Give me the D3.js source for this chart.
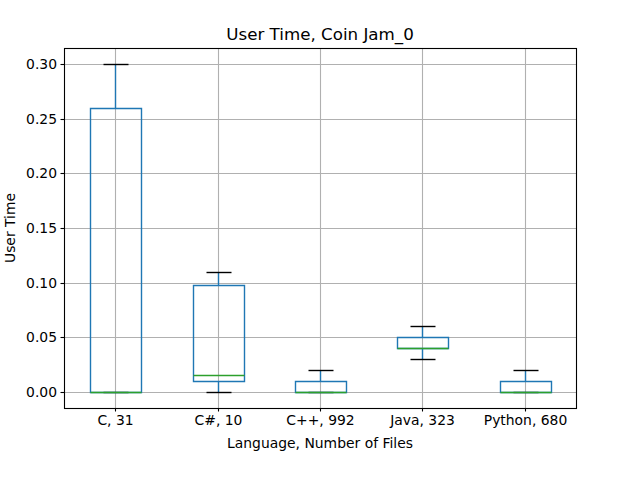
<!DOCTYPE html>
<html><head><meta charset="utf-8">
<script src="https://cdn.jsdelivr.net/npm/d3@7"></script>
<style>body{margin:0;background:#fff}svg{display:block}text{font-family:"DejaVu Sans",sans-serif}</style>
</head><body><svg id="c" width="640" height="480"></svg>
<script>
const categories = ["C, 31", "C#, 10", "C++, 992", "Java, 323", "Python, 680"];
const whiskerLow = [0, 0, 0, 0.03, 0];
const q1 = [0, 0.01, 0, 0.04, 0];
const median = [0, 0.015, 0, 0.04, 0];
const q3 = [0.26, 0.0975, 0.01, 0.05, 0.01];
const whiskerHigh = [0.30, 0.11, 0.02, 0.06, 0.02];
const yTicks = [0, 0.05, 0.10, 0.15, 0.20, 0.25, 0.30];

const svg = d3.select("#c");
const L = 64, R = 576, T = 48, B = 408;
const x = d3.scaleLinear().domain([0.5, categories.length + 0.5]).range([L, R]);
const y = d3.scaleLinear().domain([-0.015, 0.315]).range([B, T]);
const s = v => Math.round(v) + 0.5;   // snap to pixel centre
const pos = i => s(x(i + 1));
const bw = x(1.25) - x(1);   // half box width
const cw = x(1.125) - x(1);  // half cap width
const LW = 1.4;

// grid
const g = svg.append("g");
categories.forEach((c, i) => g.append("line").attr("x1", pos(i)).attr("x2", pos(i)).attr("y1", T).attr("y2", B).attr("stroke", "#b0b0b0").attr("stroke-width", 1.1));
yTicks.forEach(t => g.append("line").attr("x1", L).attr("x2", R).attr("y1", s(y(t))).attr("y2", s(y(t))).attr("stroke", "#b0b0b0").attr("stroke-width", 1.1));

// boxes
categories.forEach((c, i) => {
  const cx = pos(i);
  const b = svg.append("g");
  const yq1 = s(y(q1[i])), yq3 = s(y(q3[i])), ywl = s(y(whiskerLow[i])), ywh = s(y(whiskerHigh[i])), ym = s(y(median[i]));
  const bx0 = s(cx - bw), bx1 = s(cx + bw), cx0 = s(cx - cw), cx1 = s(cx + cw);
  b.append("line").attr("x1", cx).attr("x2", cx).attr("y1", yq3).attr("y2", ywh).attr("stroke", "#1f77b4").attr("stroke-width", LW);
  b.append("line").attr("x1", cx).attr("x2", cx).attr("y1", yq1).attr("y2", ywl).attr("stroke", "#1f77b4").attr("stroke-width", LW);
  b.append("line").attr("x1", cx0).attr("x2", cx1).attr("y1", ywh).attr("y2", ywh).attr("stroke", "#000").attr("stroke-width", LW);
  b.append("line").attr("x1", cx0).attr("x2", cx1).attr("y1", ywl).attr("y2", ywl).attr("stroke", "#000").attr("stroke-width", LW);
  b.append("path").attr("d", `M${bx0},${yq1}H${bx1}V${yq3}H${bx0}Z`).attr("fill", "none").attr("stroke", "#1f77b4").attr("stroke-width", LW);
  b.append("line").attr("x1", bx0).attr("x2", bx1).attr("y1", ym).attr("y2", ym).attr("stroke", "#2ca02c").attr("stroke-width", LW);
});

// axes
const xAxis = d3.axisBottom(x).tickValues(categories.map((c, i) => i + 1)).tickFormat((d) => categories[d - 1]).tickSize(3.5).tickPadding(3.5);
const yAxis = d3.axisLeft(y).tickValues(yTicks).tickFormat(d3.format(".2f")).tickSize(3.5).tickPadding(3.5);
const xa = svg.append("g").attr("transform", `translate(0,${B})`).call(xAxis);
const ya = svg.append("g").attr("transform", `translate(${L},0)`).call(yAxis);
[xa, ya].forEach(a => {
  a.select(".domain").remove();
  a.selectAll("text").attr("font-size", "13.9px").attr("fill", "#000").attr("font-family", "DejaVu Sans");
});
xa.selectAll(".tick").attr("transform", d => `translate(${s(x(d))},0)`);
ya.selectAll(".tick").attr("transform", d => `translate(0,${s(y(d))})`);
xa.selectAll("line").attr("stroke", "#000").attr("stroke-width", 1.1);
ya.selectAll("line").attr("stroke", "#000").attr("stroke-width", 1.1);
svg.append("rect").attr("x", L + 0.5).attr("y", T + 0.5).attr("width", R - L).attr("height", B - T).attr("fill", "none").attr("stroke", "#000").attr("stroke-width", 1.1);

svg.append("text").attr("x", (L + R) / 2).attr("y", 40).attr("text-anchor", "middle").attr("font-size", "16.7px").text("User Time, Coin Jam_0");
svg.append("text").attr("x", (L + R) / 2).attr("y", 448).attr("text-anchor", "middle").attr("font-size", "13.9px").text("Language, Number of Files");
svg.append("text").attr("transform", `translate(15,${(T + B) / 2}) rotate(-90)`).attr("text-anchor", "middle").attr("font-size", "13.9px").text("User Time");
</script></body></html>
